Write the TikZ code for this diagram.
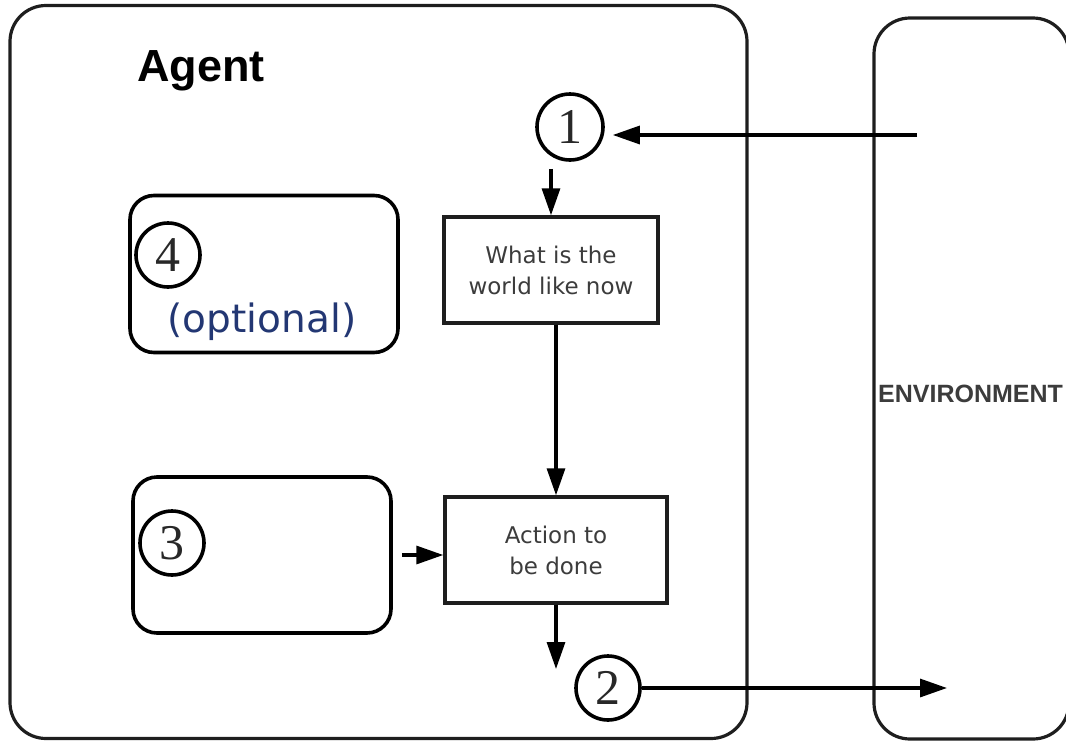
\documentclass[tikz,border=0pt]{standalone}
\usepackage{fontspec}
\setmainfont{Liberation Serif}
\newfontfamily\agentfont{Liberation Sans}
\newfontfamily\dvsans{DejaVu Sans}
\usetikzlibrary{arrows.meta}
\definecolor{lineclr}{RGB}{30,30,30}
\definecolor{txtgray}{RGB}{60,60,60}
\definecolor{digitclr}{RGB}{40,40,40}
\definecolor{optblue}{RGB}{35,55,115}
\tikzset{
  outerbox/.style={draw=lineclr, line width=3.2pt, rounded corners=36pt, inner sep=0pt},
  innerbox/.style={draw=black, line width=3.6pt, rounded corners=24pt, inner sep=0pt},
  procbox/.style={draw=lineclr, line width=3.4pt, inner sep=0pt, align=center,
     font=\dvsans\fontsize{23}{31}\selectfont, text=txtgray},
  numcirc/.style={draw=black, line width=3.6pt, circle, inner sep=0pt, minimum size=64pt,
     font=\fontsize{50}{50}\selectfont, text=digitclr},
  arr/.style={draw=black, line width=3.2pt, -{Triangle[length=27pt,width=18pt]}}
}
\begin{document}
\begin{tikzpicture}[x=1pt,y=-1pt]
\useasboundingbox (0,0) rectangle (1066,742);
% outer boxes
\node[outerbox, minimum width=737pt, minimum height=733pt] (agent) at (378.5,372) {};
\node[outerbox, minimum width=195pt, minimum height=721pt] (env) at (971.5,378.5) {};
\node[anchor=west, font=\agentfont\bfseries\fontsize{25}{25}\selectfont, text=txtgray, inner sep=0pt] (envlabel) at (878,394) {ENVIRONMENT};
\node[anchor=west, font=\agentfont\bfseries\fontsize{45}{45}\selectfont, inner sep=0pt] (agentlabel) at (137,71) {Agent};
% inner boxes
\node[innerbox, minimum width=268pt, minimum height=157pt] (box4) at (264,274) {};
\node[innerbox, minimum width=258pt, minimum height=156pt] (box3) at (262,555) {};
\node[numcirc] (c4) at (168,255) {4};
\node[numcirc] (c3) at (172,543) {3};
\node[anchor=base, font=\dvsans\fontsize{39}{39}\selectfont, text=optblue, inner sep=0pt] (opt) at (262,332) {(optional)};
% process boxes
\node[procbox, minimum width=214pt, minimum height=106pt] (world) at (551,270) {What is the\\world like now};
\node[procbox, minimum width=222pt, minimum height=106pt] (action) at (556,550) {Action to\\be done};
% numbered circles
\node[numcirc, minimum size=66pt] (c1) at (570,127) {1};
\node[numcirc] (c2) at (608,688) {2};
% free ends
\coordinate (envin) at (917,135);
\coordinate (envout) at (947,688);
\coordinate (a2) at (556,669);
% connectors
\draw[arr, shorten >=8pt] (envin) -- (envin -| c1.east);
\draw[arr] ([yshift=-7pt]c1.south -| world.north) -- (world.north);
\draw[arr] (action.north |- world.south) -- (action.north);
\draw[arr] ([xshift=9pt]box3.east) -- (action.west |- box3.east);
\draw[arr] (action.south) -- (a2);
\draw[arr] (c2.east) -- (envout);
\end{tikzpicture}
\end{document}
